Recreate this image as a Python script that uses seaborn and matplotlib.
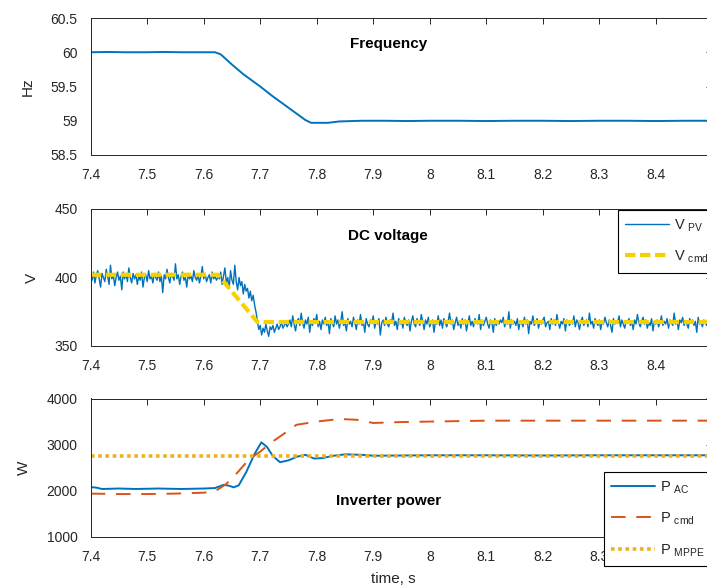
import numpy as np
import matplotlib
matplotlib.use('Agg')
import matplotlib.pyplot as plt
import seaborn as sns

# --- dane: czestotliwosc ---
t_freq = [7.40, 7.43, 7.46, 7.50, 7.53, 7.56, 7.60, 7.62, 7.63, 7.65, 7.67, 7.69,
          7.70, 7.72, 7.74, 7.76, 7.78, 7.79, 7.80, 7.82, 7.84, 7.88, 7.92, 7.96,
          8.00, 8.05, 8.10, 8.15, 8.20, 8.25, 8.30, 8.35, 8.40, 8.45, 8.50]
freq = [60.00, 60.004, 60.0, 60.0, 60.004, 60.0, 60.0, 60.0, 59.97, 59.82, 59.68, 59.56,
        59.50, 59.37, 59.25, 59.13, 59.01, 58.97, 58.97, 58.97, 58.99, 59.0, 59.0, 58.996,
        59.0, 59.0, 58.996, 59.0, 59.0, 58.996, 59.0, 59.0, 58.996, 59.0, 59.0]

# --- dane: napiecie DC (probki co 2.5 ms) ---
t_vpv = np.round(np.arange(441) * 0.0025 + 7.4, 4)
v_pv = [
    401, 398, 404, 396, 402, 405, 399, 393, 403, 400, 397, 406, 401, 395, 409, 399, 402, 394, 400, 404,
    398, 401, 391, 404, 399, 403, 397, 407, 400, 396, 403, 399, 402, 395, 401, 398, 404, 393, 400, 402,
    397, 405, 399, 401, 396, 403, 400, 398, 404, 397, 401, 389, 402, 399, 406, 400, 396, 403, 401, 398,
    410, 399, 402, 395, 401, 404, 398, 400, 393, 403, 399, 401, 397, 405, 400, 398, 402, 396, 401, 408,
    399, 403, 397, 400, 402, 396, 404, 399, 401, 398, 400,
    399, 404, 395, 401, 407, 396, 400, 392, 405, 398, 395, 409, 397, 391, 400, 394, 397, 388, 395, 390,
    392, 385, 390, 383, 387, 380,
    375, 368, 362, 365, 358, 363, 360, 366, 361, 357, 364, 362, 365, 360, 363, 366, 362, 364, 368, 363,
    365, 367, 364, 366,
    369, 364, 372, 366, 361, 368, 370, 365, 374, 367, 363, 369, 366, 371, 360, 368, 365, 370, 367, 373,
    364, 368, 362, 369, 366, 371, 365, 368, 359, 370, 367, 364, 372, 366, 369, 363, 368, 375, 365, 367,
    361, 370, 366, 368, 364, 371, 367, 362, 369, 366, 373, 365, 368, 360, 370, 366, 364, 369, 367, 372,
    363, 368, 366, 370, 358, 367, 369, 365, 371, 366, 364, 369, 367, 374, 365, 368, 362, 370, 366, 368,
    363, 371, 367, 365, 369, 361, 368, 372, 366, 364, 370, 367, 365, 373, 368, 362, 369, 366, 371, 364,
    367, 369, 360, 368, 366, 372, 365, 369, 363, 370, 367, 364, 368, 374, 366, 369, 362, 367, 371, 365,
    368, 363, 370, 366, 369, 361, 367, 372, 365, 368, 364, 370, 367, 366, 373, 362, 369, 365, 368, 371,
    366, 363, 369, 367, 360, 370, 365, 368, 366, 369, 367, 371, 364, 368, 366, 375, 363, 369, 366, 368,
    365, 370, 362, 368, 367, 364, 371, 366, 369, 359, 368, 366, 372, 365, 367, 370, 363, 368, 366, 369,
    371, 364, 367, 368, 362, 370, 366, 369, 365, 373, 367, 363, 368, 366, 370, 361, 369, 367, 365, 368,
    366, 372, 364, 369, 367, 362, 368, 371, 365, 367, 369, 364, 374, 366, 368, 363, 370, 367, 365, 369,
    362, 368, 366, 371, 367, 364, 369, 365, 360, 370, 366, 368, 367, 372, 364, 369, 366, 363, 368, 367,
    370, 365, 368, 362, 369, 366, 373, 367, 364, 368, 371, 366, 369, 363, 367, 365, 370, 361, 368, 366,
    369, 364, 367, 372, 365, 368, 366, 370, 363, 369, 367, 365, 374, 366, 368, 362, 369, 367, 371, 365,
    368, 366, 363, 370, 367, 369, 365, 368, 360, 371, 366, 368, 364, 369, 367, 365, 372, 366, 368, 367]
t_vcmd = [7.40, 7.625, 7.695, 8.50]
v_cmd = [402, 402, 367.5, 367.5]

# --- dane: moc falownika ---
t_pac = [7.40, 7.41, 7.42, 7.45, 7.48, 7.52, 7.56, 7.60, 7.62, 7.635, 7.645, 7.653,
         7.662, 7.675, 7.69, 7.702, 7.712, 7.722, 7.735, 7.75, 7.765, 7.78, 7.795,
         7.81, 7.83, 7.85, 7.88, 7.90, 7.95, 8.0, 8.1, 8.2, 8.3, 8.4, 8.5]
p_ac = [2080, 2070, 2040, 2050, 2040, 2050, 2040, 2050, 2060, 2130, 2110, 2075,
        2120, 2400, 2800, 3050, 2950, 2760, 2620, 2660, 2740, 2780, 2700,
        2710, 2760, 2790, 2780, 2760, 2765, 2770, 2770, 2765, 2770, 2770, 2770]
t_pcmd = [7.40, 7.45, 7.50, 7.55, 7.60, 7.62, 7.64, 7.66, 7.68, 7.70, 7.72, 7.74,
          7.764, 7.80, 7.84, 7.87, 7.90, 7.95, 8.0, 8.05, 8.1, 8.2, 8.3, 8.4, 8.5]
p_cmd = [1940, 1930, 1930, 1940, 1960, 1990, 2150, 2400, 2680, 2850, 3050, 3220,
         3430, 3500, 3556, 3540, 3470, 3490, 3500, 3510, 3520, 3520, 3520, 3520, 3520]
t_mppe = [7.40, 8.50]
p_mppe = [2750, 2750]

xticks = [7.4, 7.5, 7.6, 7.7, 7.8, 7.9, 8, 8.1, 8.2, 8.3, 8.4]
xticklabels = ['7.4', '7.5', '7.6', '7.7', '7.8', '7.9', '8', '8.1', '8.2', '8.3', '8.4']

sns.set_style('white')
plt.rcParams['font.family'] = ['Liberation Sans', 'DejaVu Sans']
plt.rcParams['mathtext.fontset'] = 'custom'
plt.rcParams['mathtext.rm'] = 'Liberation Sans'

blue = '#0072BD'
orange = '#D95319'
gold = '#EDB120'
yellow = '#F7D000'
dark = '#262626'

fig = plt.figure(figsize=(7.07, 5.85), dpi=100)
W, H = 707, 585
def box(top, bottom):
    return [90.7 / W, 1 - bottom / H, (712.3 - 90.7) / W, (bottom - top) / H]

ax1 = fig.add_axes(box(18, 155))
ax2 = fig.add_axes(box(209, 346))
ax3 = fig.add_axes(box(398.5, 537))

sns.lineplot(x=t_freq, y=freq, ax=ax1, color=blue, lw=1.4, estimator=None)
sns.lineplot(x=t_vpv, y=v_pv, ax=ax2, color=blue, lw=1.0, estimator=None, label=r'V $_{\mathregular{PV}}$')
sns.lineplot(x=t_vcmd, y=v_cmd, ax=ax2, color=yellow, lw=3, estimator=None, label=r'V $_{\mathregular{cmd}}$')
ax2.lines[-1].set_dashes((2.5, 1.1))
sns.lineplot(x=t_pac, y=p_ac, ax=ax3, color=blue, lw=1.4, estimator=None, label=r'P $_{\mathregular{AC}}$')
sns.lineplot(x=t_pcmd, y=p_cmd, ax=ax3, color=orange, lw=1.4, estimator=None, label=r'P $_{\mathregular{cmd}}$')
ax3.lines[-1].set_dashes((7.5, 5.5))
sns.lineplot(x=t_mppe, y=p_mppe, ax=ax3, color=gold, lw=2.6, estimator=None, label=r'P $_{\mathregular{MPPE}}$')
ax3.lines[-1].set_dashes((1, 1))

ax1.set_ylim(58.5, 60.5)
ax1.set_yticks([58.5, 59, 59.5, 60, 60.5])
ax1.set_yticklabels(['58.5', '59', '59.5', '60', '60.5'])
ax2.set_ylim(350, 450)
ax2.set_yticks([350, 400, 450])
ax3.set_ylim(1000, 4000)
ax3.set_yticks([1000, 2000, 3000, 4000])

for ax, lab, txt, ty in [(ax1, 'Hz', 'Frequency', 0.81), (ax2, 'V', 'DC voltage', 0.80),
                         (ax3, 'W', 'Inverter power', 0.262)]:
    ax.set_xlim(7.4, 8.5)
    ax.set_xticks(xticks)
    ax.set_xticklabels(xticklabels)
    ax.tick_params(direction='in', length=4, width=0.7, top=True, right=True,
                   labelsize=10, colors=dark, pad=9.5)
    for s in ax.spines.values():
        s.set_color(dark)
        s.set_linewidth(0.7)
    ax.set_ylabel(lab, fontsize=11, color=dark, labelpad=11)
    ax.text(0.4785, ty, txt, transform=ax.transAxes, ha='center', va='center',
            fontsize=11, fontweight='bold', color='black')

ax3.set_xlabel('time, s', fontsize=11, color=dark)
ax3.xaxis.set_label_coords(0.487, -0.255)

leg_kw = dict(frameon=True, fancybox=False, edgecolor='black', framealpha=1,
              fontsize=10.5, handlelength=3.0, labelspacing=1.0, borderpad=0.5,
              handletextpad=0.35, borderaxespad=0)
l2 = ax2.legend(loc='upper left', bbox_to_anchor=(617.7 / W, 1 - 210 / H),
                bbox_transform=fig.transFigure, **leg_kw)
l3 = ax3.legend(loc='upper left', bbox_to_anchor=(604 / W, 1 - 472 / H),
                bbox_transform=fig.transFigure, **leg_kw)
for l in (l2, l3):
    l.get_frame().set_linewidth(0.8)

fig.savefig('out.png', dpi=100)
